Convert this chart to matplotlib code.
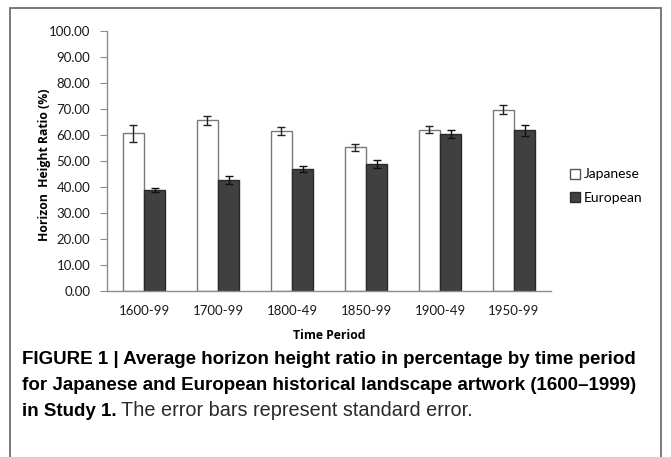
import matplotlib
matplotlib.use("Agg")
import matplotlib.pyplot as plt
from matplotlib.patches import Rectangle, Patch
import numpy as np

periods = ["1600-99", "1700-99", "1800-49", "1850-99", "1900-49", "1950-99"]
japanese = [60.6, 65.7, 61.5, 55.3, 62.0, 69.7]
japanese_se = [3.1, 1.7, 1.6, 1.4, 1.3, 1.7]
european = [39.0, 42.7, 46.9, 49.0, 60.4, 61.8]
european_se = [0.8, 1.4, 1.3, 1.5, 1.4, 2.0]
yticks = [0, 10, 20, 30, 40, 50, 60, 70, 80, 90, 100]

W, H = 671, 457
fig = plt.figure(figsize=(W / 100, H / 100), dpi=100)
fig.patch.set_facecolor("white")

# outer frame
fig.patches.append(Rectangle((10 / W, -0.1), (661 - 10) / W, 1.1 - 8 / H,
                             transform=fig.transFigure, fill=False,
                             edgecolor="#6e6e6e", linewidth=1.3))

ax = fig.add_axes([107 / W, 1 - 291 / H, (551 - 107) / W, (291 - 31) / H])
x = np.arange(len(periods))
bw = 0.29
axis_col = "#8c8c8c"
tick_font = ["Lato", "DejaVu Sans"]
ax.bar(x - bw / 2, japanese, bw, color="white", edgecolor="#7a7a7a", linewidth=1.0,
       yerr=japanese_se, error_kw=dict(ecolor="#222222", elinewidth=1.0, capsize=3, capthick=1.0),
       label="Japanese")
ax.bar(x + bw / 2, european, bw, color="#404040", edgecolor="#2a2a2a", linewidth=1.0,
       yerr=european_se, error_kw=dict(ecolor="#111111", elinewidth=1.0, capsize=3, capthick=1.0),
       label="European")

ax.set_xlim(-0.5, len(periods) - 0.5)
ax.set_ylim(0, 100)
ax.set_yticks(yticks)
ax.set_yticklabels([f"{v:.2f}" for v in yticks])
ax.set_xticks(x)
ax.set_xticklabels(periods)
for s in ["top", "right"]:
    ax.spines[s].set_visible(False)
for s in ["left", "bottom"]:
    ax.spines[s].set_color(axis_col)
    ax.spines[s].set_linewidth(1.0)
ax.tick_params(axis="y", direction="out", length=5, color=axis_col, pad=7, labelsize=9.5, labelcolor="#1a1a1a")
ax.tick_params(axis="x", length=0, pad=10, labelsize=9.5, labelcolor="#1a1a1a")
for lab in ax.get_yticklabels() + ax.get_xticklabels():
    lab.set_family(tick_font)

ax.set_xlabel("Time Period", fontsize=8.8, fontweight="bold", family=["Open Sans", "DejaVu Sans"], labelpad=9)
fig.text(45 / W, 1 - 165 / H, "Horizon  Height Ratio (%)", rotation=90, ha="center", va="center",
         fontsize=8.8, fontweight="bold", family=["Open Sans", "DejaVu Sans"])

handles = [Patch(facecolor="white", edgecolor="#555555", linewidth=1.0, label="Japanese"),
           Patch(facecolor="#404040", edgecolor="#2a2a2a", linewidth=1.0, label="European")]
leg = fig.legend(handles=handles, loc="center left", bbox_to_anchor=(557 / W, 1 - 186 / H),
                 frameon=False, handlelength=0.75, handleheight=0.75, handletextpad=0.3,
                 labelspacing=0.8, prop=dict(family=tick_font, size=10))

# caption
cap_font = ["Liberation Sans Narrow", "Liberation Sans", "DejaVu Sans"]
cs = 13.5
x0 = 22 / W
fig.text(x0, 1 - 359 / H, "FIGURE 1 | Average horizon height ratio in percentage by time period",
         fontsize=cs, fontweight="bold", family=cap_font, va="center")
fig.text(x0, 1 - 385 / H, "for Japanese and European historical landscape artwork (1600\u20131999)",
         fontsize=cs, fontweight="bold", family=cap_font, va="center")
t_b = fig.text(x0, 1 - 411 / H, "in Study 1.", fontsize=cs, fontweight="bold", family=cap_font, va="center")
fig.canvas.draw()
bb = t_b.get_window_extent(renderer=fig.canvas.get_renderer())
fig.text(bb.x1 / W + 4 / W, 1 - 411 / H, "The error bars represent standard error.",
         fontsize=14.3, family=cap_font, va="center", color="#2a2a2a")

fig.savefig("out.png", dpi=100, facecolor="white")
